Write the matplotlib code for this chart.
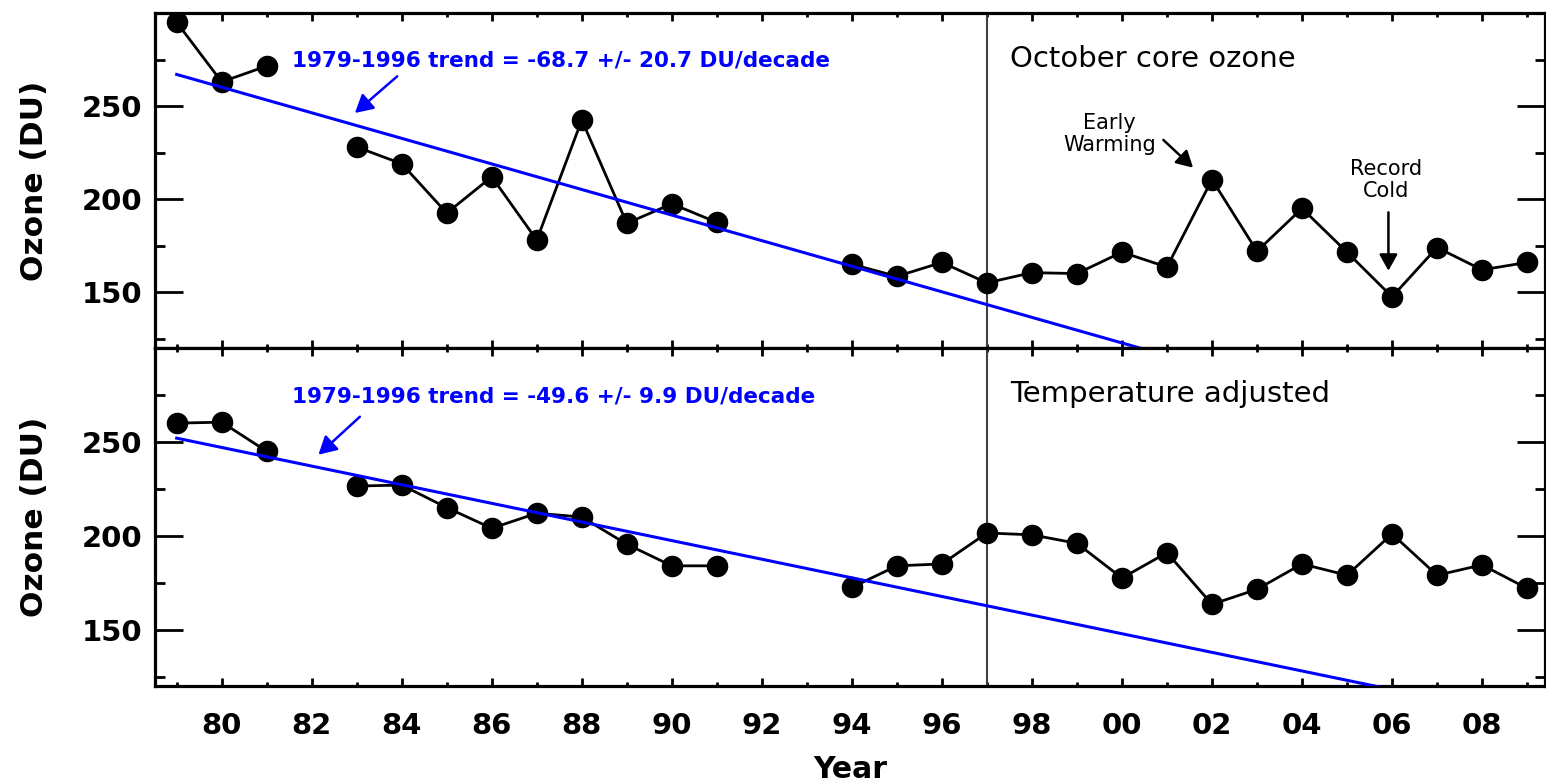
import numpy as np
import matplotlib
matplotlib.use('Agg')
import matplotlib.pyplot as plt
from matplotlib.ticker import MultipleLocator, FuncFormatter

plt.rcParams['font.family'] = ['DejaVu Sans']
plt.rcParams['font.weight'] = 'bold'

# yearly values, NaN where there is no data
years = np.arange(1979, 2010)
ozone_core = [295, 263, 271.5, np.nan, 228, 219, 192.5, 212, 178, 242.5, 187, 197.5, 187.5,
              np.nan, np.nan, 165, 158.5, 166, 155, 160.5, 160, 171.5, 163.5, 210.5,
              172, 195, 171.5, 147.5, 174, 162, 166]
ozone_adj = [260, 260.5, 245, np.nan, 226.5, 227, 215, 204, 212, 210, 195.5, 184, 184,
             np.nan, np.nan, 172.5, 184, 185, 201.5, 200.5, 196, 177.5, 191, 163.5,
             171.5, 185, 179, 201, 179, 184.5, 172]

# 1979-1996 linear fits: value at 1979 and rate in DU/decade
trend_1979 = [267.0, 252.0]
trend_rate = [-68.7, -49.6]
trend_err = [20.7, 9.9]
panel_titles = ['October core ozone', 'Temperature adjusted']
break_year = 1997

fig = plt.figure(figsize=(15.46, 7.84), dpi=100)
ax1 = fig.add_axes([0.1003, 0.5561, 0.8991, 0.4273])
ax2 = fig.add_axes([0.1003, 0.125, 0.8991, 0.4311])

# where the blue arrow starts / points (data coords)
arrow_tail = [(1983.9, 266), (1983.07, 263.4)]
arrow_tip = [(1982.96, 246.3), (1982.15, 243.2)]

for i, (ax, vals) in enumerate([(ax1, ozone_core), (ax2, ozone_adj)]):
    ax.plot(years, vals, '-o', color='black', lw=2, ms=14.5, zorder=3)
    xt = np.array([1979, 2010])
    ax.plot(xt, trend_1979[i] + trend_rate[i] / 10 * (xt - 1979), color='blue', lw=2.2, zorder=4)
    ax.axvline(break_year, color='#404040', lw=1.5, zorder=2)

    ax.set_xlim(1978.52, 2009.4)
    ax.set_ylim(120, 300)
    ax.xaxis.set_major_locator(MultipleLocator(2))
    ax.xaxis.set_minor_locator(MultipleLocator(1))
    ax.set_yticks([150, 200, 250])
    ax.set_yticks([125, 175, 225, 275], minor=True)
    ax.xaxis.set_major_formatter(FuncFormatter(lambda v, p: '%02d' % (int(round(v)) % 100)))

    ax.tick_params(axis='y', which='major', direction='in', length=20, width=2,
                   left=True, right=True, labelsize=21, pad=9)
    ax.tick_params(axis='y', which='minor', direction='in', length=7, width=2,
                   left=True, right=True)
    ax.tick_params(axis='x', which='major', direction='in', length=6, width=2,
                   top=True, bottom=True, labelsize=21, pad=19)
    ax.tick_params(axis='x', which='minor', direction='in', length=3, width=2,
                   top=True, bottom=True)
    for s in ax.spines.values():
        s.set_linewidth(2.3)

    ax.set_ylabel('Ozone (DU)', fontsize=22.5, fontweight='bold')
    ax.yaxis.set_label_coords(-0.076, 0.5)

    ax.text(1981.56, 271.2, '1979-1996 trend = %.1f +/- %.1f DU/decade' % (trend_rate[i], trend_err[i]),
            color='blue', fontsize=15.5, fontweight='bold', ha='left', va='baseline')
    ax.annotate('', xy=arrow_tip[i], xytext=arrow_tail[i],
                arrowprops=dict(arrowstyle='-|>,head_length=0.45,head_width=0.25',
                                color='blue', lw=1.8, mutation_scale=24,
                                shrinkA=0, shrinkB=0))
    ax.text(1997.52, 271, panel_titles[i], color='black', fontsize=21,
            fontweight='normal', ha='left', va='baseline')

ax1.tick_params(axis='x', which='both', labelbottom=False)

# event annotations in the top panel
ax1.text(1999.72, 235, 'Early\nWarming', fontsize=15, fontweight='normal',
         ha='center', va='center', linespacing=1.15)
ax1.annotate('', xy=(2001.58, 216.9), xytext=(2000.92, 231.8),
             arrowprops=dict(arrowstyle='-|>,head_length=0.45,head_width=0.25',
                             color='black', lw=1.8, mutation_scale=22,
                             shrinkA=0, shrinkB=0))
ax1.text(2005.87, 210.3, 'Record\nCold', fontsize=15, fontweight='normal',
         ha='center', va='center', linespacing=1.15)
ax1.annotate('', xy=(2005.92, 161.5), xytext=(2005.92, 192.9),
             arrowprops=dict(arrowstyle='-|>,head_length=0.45,head_width=0.25',
                             color='black', lw=1.8, mutation_scale=22,
                             shrinkA=0, shrinkB=0))

fig.text(850 / 1546, 1 - 778 / 784, 'Year', fontsize=21.5, fontweight='bold',
         ha='center', va='baseline')

fig.savefig('out.png', dpi=100)
